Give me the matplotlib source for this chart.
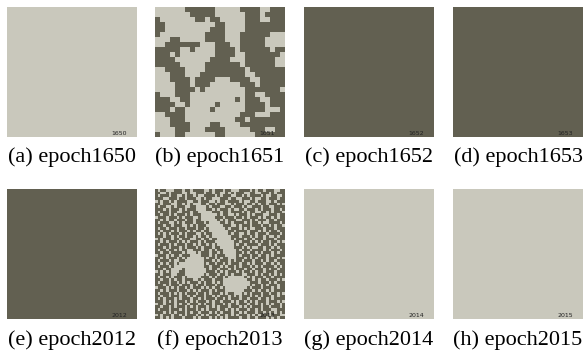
import numpy as np
import matplotlib
matplotlib.use("Agg")
import matplotlib.pyplot as plt
from matplotlib.colors import ListedColormap

# snapshot states: '.' = light cell, '#' = dark cell
epochs = [1650, 1651, 1652, 1653, 2012, 2013, 2014, 2015]
letters = ["a", "b", "c", "d", "e", "f", "g", "h"]

state_1650 = ["."]
state_1652 = ["#"]
state_1653 = ["#"]
state_2012 = ["#"]
state_2014 = ["."]
state_2015 = ["."]

state_1651 = [
    "......######.....####..###",
    ".......#####......###.####",
    "#.......##.##.....###..###",
    "##..........##....########",
    "##.........###....########",
    "#.........####...######...",
    "...##.....####...#####....",
    "..#######...###..#####....",
    "#####..#....####.######.##",
    "###.#.......####..#######.",
    "####.......####...######..",
    "#####.....#######.######..",
    "..####....########.#######",
    "...###...#########..######",
    "...####.####...####..#####",
    "....###.###......###.#####",
    "....####.#........#######.",
    "#...###...........##..####",
    "###..##.........#.###..###",
    "####..#.....#.....####.###",
    "###.##.....#......####...#",
    "..####...........###...###",
    "...###..........##.#######",
    "...####....##....#########",
    "....###...####.....###..##",
    "#...##......##......######",
]

state_2013 = [
    "#.##...###.##.####..#.###.##...####.#.##.###..##",
    "##..#.####..#..###.##.##..#.#.###..##..###.#.###",
    "#.###.##..#.##.#..####.#.###..##.#.####.#..##..#",
    "###..###.##.###..#.##...###.##..###.#..##.###.##",
    ".#.##.#.####..##.###..#.##.####.#..##.###..#.###",
    "##.###..##.#.#...##.##.###..#.###.##.#.##.###.#.",
    "#.##..#.###..##....#.###..##.###.#..###.##..####",
    "###.#.###.#.###....##.#.###.#..##.###.#.###.##.#",
    "#.###.##..###.##.....###.##.####.#.##..##.#.###.",
    "##.##.#.###.#.###......#.##..#.###.#.###..###.##",
    ".###.###.#.###..#.....###.###.##.#.###.#.##.#.##",
    "##.#.##.###.##.##......#.#.###..###.#.###.##.###",
    "#.###..#.#.###.###.#....##.#.####.#.##.#..####.#",
    "###.##.###..#.#.###......###..#.###.###.##.#.##.",
    "#.##.###.##.###.##.#......#.###.#.#..###.###.###",
    "##.###.#.###.#.##.##.......##.####.###.#.#.##.##",
    "#.#.#.###.#.###..#.##......#.##..#.##.###.####.#",
    "###.##.#.##.##.#.##.#.......###.###.#.##.#..#.##",
    ".#.###.##.###..##.##.##.....#.###.##.###.###.###",
    "##.#.###.#.#.###.#.###.......##.###.#.#.##.##.#.",
    "#.###.#.###.##.#.##.#.#......#.##.####.###.#.###",
    "###.#.###.#.###.#.###.##.....###.#.#..##.##.#.##",
    "#.##.##.#.##..###.##.#.##.....#.###.####.#.###.#",
    "##.##.####.#...#.###.##.#.....##.#.##.#.###.#.##",
    ".###.#.##.###....###.#.###....#.###.##.##.#.####",
    "##.#.###.#.#......#.##.#.##...###.#.#.###.###.#.",
    "#.###.#..##.......###.#.###.#.##.###.##.#.##.###",
    "##.#.##.#.........#.##.##.#.###.##.#.###.##.#.##",
    "#.###.#...........##.###.#.##.#.###.#.#.####.#.#",
    "###.##....#........#.##.###.#.###.##.###.#.##.##",
    ".#.#.#...##........###.#.#.###.#.##.#.##.###.###",
    "##.###..###.......#.###.##.#.###..###.#.##.#.#.#",
    "#.##.#.###.#.....###.#.##.#......#.#.###.##.####",
    "##.##.#.##.###..#.###.###.........##.#.##.###.#.",
    "#.###.##.#.#.###.#.##.#.#..........###.###.#.###",
    "###.#.###.###.#.##.###.##..........#.##.#.###.##",
    ".###.#.#.##.#.###.#.#.##.#........#.###.###.#.##",
    "##.#.###.###.#.#.###.#.###.......###.#.##.#.####",
    "#.###.#.#.#.###.##.#.###.#.##...#.#.###.##.##.#.",
    "##.##.###.##.#.###.##.#.###.#.#.###.#.#.###.#.##",
    "#.#.###.#.###.##.#.###.##.#.###.##.###.##.#.####",
    "###.#.#.###.#.#.###.#.##.###.#.##.#.#.###.###.#.",
    ".##.###.#.##.###.#.##.###.#.##.###.##.#.#.#.##.#",
    "##.##.#.###.#.#.###.#.#.###.###.#.#.###.##.###.#",
    "#.###.###.#.###.#.#.###.##.#.#.###.##.#.###..###",
    "###.#.#.###.#.##.###.#.#.###.##.#.###.##.#.#.#.#",
    ".#.###.##.#.###.#.#.###.##.#.#.###.#.#.###.###..",
    "##.#.#.###.###.#.###.#.#.#.####.##.##.###.#.#.##",
]

states = [state_1650, state_1651, state_1652, state_1653,
          state_2012, state_2013, state_2014, state_2015]

LIGHT = "#c9c8bc"
DARK = "#626051"
cmap = ListedColormap([LIGHT, DARK])


def to_array(rows):
    n = max(len(r) for r in rows)
    rows = [r.ljust(n, "#")[:n] for r in rows]
    return np.array([[1 if ch == "#" else 0 for ch in r] for r in rows])


W, H = 587, 356
fig = plt.figure(figsize=(W / 100, H / 100), dpi=100)

x_left = [7, 155, 304, 453]
y_top = [7, 189]
size = 130
cap_y = [157, 340]

for i, (ep, let, st) in enumerate(zip(epochs, letters, states)):
    row, col = divmod(i, 4)
    x0, y0 = x_left[col], y_top[row]
    ax = fig.add_axes([x0 / W, 1 - (y0 + size) / H, size / W, size / H])
    ax.imshow(to_array(st), cmap=cmap, vmin=0, vmax=1,
              interpolation="nearest", aspect="auto")
    ax.set_axis_off()
    ax.text(1 - 10 / size, 3.5 / size, str(ep), transform=ax.transAxes,
            ha="right", va="center", fontsize=4.5, color="#222222",
            family="DejaVu Sans")
    fig.text((x0 + size / 2) / W, 1 - cap_y[row] / H, f"({let}) epoch{ep}",
             ha="center", va="center", fontsize=16, family="Liberation Serif")

fig.savefig("out.png", dpi=100)
